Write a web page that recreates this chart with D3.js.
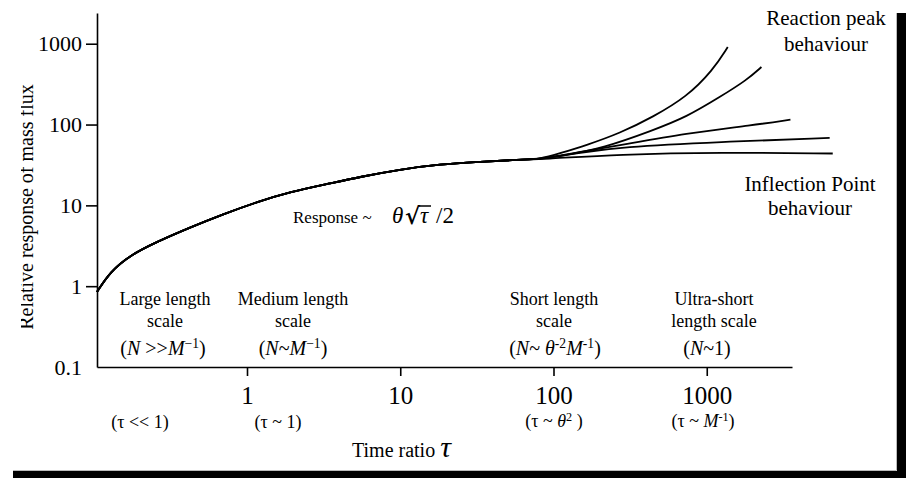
<!DOCTYPE html>
<html>
<head>
<meta charset="utf-8">
<script src="https://cdn.jsdelivr.net/npm/d3@7"></script>
<style>
  body { margin: 0; background: #fff; }
  svg { display: block; font-family: "Liberation Serif", "Times New Roman", serif; }
</style>
</head>
<body>
<script>
const width = 906,
      height = 478;

// tick values
const xTicks = [1, 10, 100, 1000],
      yTicks = [1000, 100, 10, 1, 0.1];

// shared rising part of the response curve (tau, response)
const baseTau  = [0.105, 0.128, 0.173, 0.258, 0.425, 0.70, 1.157, 1.91, 3.48, 5.46, 9.95, 18.2, 33.1, 60.3, 81.5],
      baseResp = [0.85, 1.51, 2.42, 3.54, 5.33, 7.78, 11.0, 14.7, 18.7, 22.5, 27.8, 32.3, 34.5, 36.9, 37.2];

// branches after the split (reaction peak -> inflection point)
const branch1Tau  = [81.5, 110, 164, 271, 445, 738, 1096, 1371],
      branch1Resp = [37.2, 44, 55.5, 78, 124, 219, 469, 910];
const branch2Tau  = [81.5, 120, 210, 445, 738, 1216, 1816, 2274],
      branch2Resp = [37.2, 42, 51, 84.8, 124, 219, 353, 515];
const branch3Tau  = [81.5, 150, 271, 738, 1995, 3517],
      branch3Resp = [37.2, 46, 55.5, 78, 98, 115];
const branch4Tau  = [81.5, 150, 271, 1217, 6340],
      branch4Resp = [37.2, 45, 52.8, 61, 68.3];
const branch5Tau  = [81.5, 271, 1217, 6640],
      branch5Resp = [37.2, 42.8, 45.4, 43.8];

const branches = [
  [branch1Tau, branch1Resp],
  [branch2Tau, branch2Resp],
  [branch3Tau, branch3Resp],
  [branch4Tau, branch4Resp],
  [branch5Tau, branch5Resp]
];

const regionNames = [
  ['Large length', 'scale'],
  ['Medium length', 'scale'],
  ['Short length', 'scale'],
  ['Ultra-short', 'length scale']
];

const xScale = d3.scaleLog().domain([0.105, 3600]).range([97, 792]),
      yScale = d3.scaleLog().domain([0.1, 2400]).range([367, 13]);

const svg = d3.select('body')
              .append('svg')
              .attr('width', width)
              .attr('height', height);

// page shadow
svg.append('rect')
   .attr('x', 897).attr('y', 13).attr('width', 9).attr('height', 465)
   .attr('fill', '#000');
svg.append('rect')
   .attr('x', 13).attr('y', 471).attr('width', 893).attr('height', 7)
   .attr('fill', '#000');
svg.append('path')
   .attr('d', 'M13,470.5H896.5V13')
   .attr('fill', 'none')
   .attr('stroke', '#bbb');

// axes
const xAxis = d3.axisBottom(xScale)
                .tickValues(xTicks)
                .tickFormat(d3.format('d'))
                .tickSize(9)
                .tickSizeOuter(0)
                .tickPadding(10);

const yAxis = d3.axisLeft(yScale)
                .tickValues(yTicks)
                .tickFormat(d => d < 1 ? '0.1' : d3.format('d')(d))
                .tickSize(11)
                .tickSizeOuter(0)
                .tickPadding(4);

const gx = svg.append('g')
              .attr('transform', 'translate(0,' + 367 + ')')
              .call(xAxis)
              .attr('font-family', null)
              .attr('font-size', 25);

const gy = svg.append('g')
              .attr('transform', 'translate(' + 97 + ',0)')
              .call(yAxis)
              .attr('font-family', null)
              .attr('font-size', 22);
gy.selectAll('.tick').filter(d => d < 1).select('line').remove();

svg.selectAll('.domain, .tick line')
   .attr('stroke', '#000')
   .attr('stroke-width', 1.6);
svg.selectAll('.tick text').attr('fill', '#000');

// curves
const line = d3.line()
               .x(d => xScale(d[0]))
               .y(d => yScale(d[1]))
               .curve(d3.curveBasis);

const basePoints = baseTau.map((t, i) => [t, baseResp[i]]);

svg.selectAll('path.curve')
   .data(branches)
   .enter()
   .append('path')
   .attr('class', 'curve')
   .attr('fill', 'none')
   .attr('stroke', '#000')
   .attr('stroke-width', 1.8)
   .attr('d', function(b) {
     const pts = basePoints.slice(0, -1).concat(b[0].map((t, i) => [t, b[1][i]]));
     return line(pts);
   });

// y axis title (clipped at the page edge like the scan)
svg.append('clipPath').attr('id', 'edge')
   .append('rect').attr('x', 21).attr('y', 0).attr('width', 76).attr('height', 400);
svg.append('g')
   .attr('clip-path', 'url(#edge)')
   .append('text')
   .attr('transform', 'translate(33,207) rotate(-90)')
   .attr('text-anchor', 'middle')
   .attr('font-size', 20)
   .text('Relative response of mass flux');

// x axis title
const xTitle = svg.append('text')
                  .attr('x', 352).attr('y', 457)
                  .attr('font-size', 20);
xTitle.append('tspan').text('Time  ratio  ');
xTitle.append('tspan').attr('font-style', 'italic').attr('font-size', 30).text('τ');

// region labels
const regionX = [165, 293, 554, 714];
regionX.forEach(function(x, i) {
  svg.append('text').attr('x', x).attr('y', 305)
     .attr('text-anchor', 'middle').attr('font-size', 18)
     .text(regionNames[i][0]);
  svg.append('text').attr('x', x).attr('y', 327)
     .attr('text-anchor', 'middle').attr('font-size', 18)
     .text(regionNames[i][1]);
});

function mathLabel(x, y, parts, size) {
  const t = svg.append('text')
               .attr('x', x).attr('y', y)
               .attr('text-anchor', 'middle')
               .attr('font-size', size);
  parts.forEach(function(p) {
    const s = t.append('tspan').text(p.t);
    if (p.i) s.attr('font-style', 'italic');
    if (p.sup) s.attr('font-size', size * 0.68).attr('dy', -size * 0.34);
    if (p.down) s.attr('dy', size * 0.34);
  });
  return t;
}

mathLabel(163, 355, [{t: '('}, {t: 'N', i: 1}, {t: ' >>'}, {t: 'M', i: 1}, {t: '−1', sup: 1}, {t: ')', down: 1}], 20);
mathLabel(293, 355, [{t: '('}, {t: 'N', i: 1}, {t: '~'}, {t: 'M', i: 1}, {t: '−1', sup: 1}, {t: ')', down: 1}], 20);
mathLabel(555, 355, [{t: '('}, {t: 'N', i: 1}, {t: '~ '}, {t: 'θ', i: 1}, {t: '-2', sup: 1}, {t: 'M', i: 1, down: 1}, {t: '-1', sup: 1}, {t: ')', down: 1}], 20);
mathLabel(707, 355, [{t: '('}, {t: 'N', i: 1}, {t: '~1)'}], 20);

mathLabel(140, 428, [{t: '(τ << 1)'}], 18);
mathLabel(278, 428, [{t: '(τ ~ 1)'}], 18);
mathLabel(554, 427, [{t: '(τ ~ '}, {t: 'θ', i: 1}, {t: '2', sup: 1}, {t: ' )', down: 1}], 18);
mathLabel(703, 427, [{t: '(τ ~ '}, {t: 'M', i: 1}, {t: '-1', sup: 1}, {t: ')', down: 1}], 18);

// behaviour labels
[['Reaction peak', 25], ['behaviour', 51]].forEach(function(d) {
  svg.append('text').attr('x', 826).attr('y', d[1])
     .attr('text-anchor', 'middle').attr('font-size', 21).text(d[0]);
});
[['Inflection Point', 191], ['behaviour', 215]].forEach(function(d) {
  svg.append('text').attr('x', 810).attr('y', d[1])
     .attr('text-anchor', 'middle').attr('font-size', 21).text(d[0]);
});

// response formula
svg.append('text').attr('x', 293).attr('y', 223).attr('font-size', 17).text('Response ~');
svg.append('text').attr('x', 392).attr('y', 223).attr('font-size', 23)
   .attr('font-style', 'italic').text('θ');
svg.append('text').attr('x', 405).attr('y', 224).attr('font-size', 23)
   .attr('font-family', 'DejaVu Serif').attr('font-weight', 'bold').text('√');
const tau = svg.append('text').attr('x', 420).attr('y', 223).attr('font-size', 23)
               .attr('font-style', 'italic').text('τ');
svg.append('text').attr('x', 436).attr('y', 223).attr('font-size', 23).text('/2');
const tb = tau.node().getBBox();
svg.append('line')
   .attr('x1', tb.x - 1).attr('x2', tb.x + tb.width + 2)
   .attr('y1', tb.y + 3).attr('y2', tb.y + 3)
   .attr('stroke', '#000').attr('stroke-width', 1.5);
</script>
</body>
</html>
